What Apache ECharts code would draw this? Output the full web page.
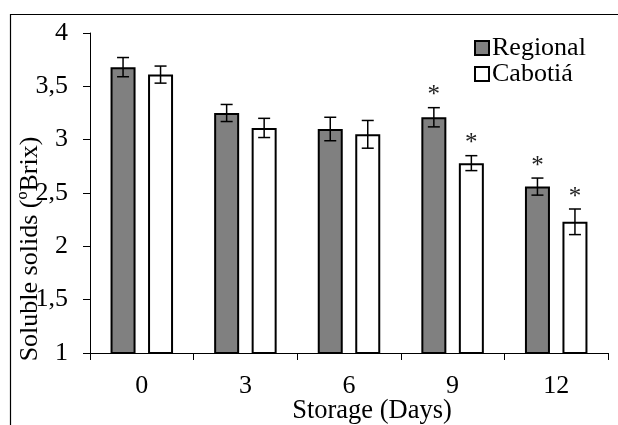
<!DOCTYPE html>
<html>
<head>
<meta charset="utf-8">
<script src="https://cdn.jsdelivr.net/npm/echarts@6/dist/echarts.min.js"></script>
<style>html,body{margin:0;padding:0;background:#fff;}#c{width:618px;height:425px;}</style>
</head>
<body>
<div id="c"></div>
<script>
var categories = ['0', '3', '6', '9', '12'];
var seriesNames = ['Regional', 'Cabotiá'];
var regional = [3.68, 3.25, 3.10, 3.21, 2.56];
var regionalErr = [0.09, 0.08, 0.11, 0.09, 0.08];
var regionalSig = [0, 0, 0, 1, 1];
var cabotia = [3.61, 3.11, 3.05, 2.78, 2.23];
var cabotiaErr = [0.08, 0.09, 0.13, 0.07, 0.12];
var cabotiaSig = [0, 0, 0, 1, 1];
var yTicks = [1, 1.5, 2, 2.5, 3, 3.5, 4];

var FONT = "'Liberation Serif', 'Times New Roman', serif";
var BAR_W = 25, BAR_GAP = 0.5;

function errData(vals, errs, sig) {
  return vals.map(function (v, i) { return [i, v, errs[i], sig[i]]; });
}

function errRender(sign) {
  return function (params, api) {
    var i = api.value(0), v = api.value(1), e = api.value(2), s = api.value(3);
    var off = sign * BAR_W * (1 + BAR_GAP) / 2;
    var top = api.coord([i, v + e]);
    var bot = api.coord([i, v - e]);
    var x = top[0] + off;
    var cap = 6;
    var st = { stroke: '#000', lineWidth: 1.5 };
    var children = [
      { type: 'line', shape: { x1: x, y1: top[1], x2: x, y2: bot[1] }, style: st },
      { type: 'line', shape: { x1: x - cap, y1: top[1], x2: x + cap, y2: top[1] }, style: st },
      { type: 'line', shape: { x1: x - cap, y1: bot[1], x2: x + cap, y2: bot[1] }, style: st }
    ];
    if (s) {
      children.push({ type: 'text', style: { text: '*', x: x, y: top[1] - 12, align: 'center', verticalAlign: 'middle', font: '25px ' + FONT, fill: '#222' } });
    }
    return { type: 'group', children: children };
  };
}

var chart = echarts.init(document.getElementById('c'));
chart.setOption({
  animation: false,
  backgroundColor: '#fff',
  grid: { left: 90, right: 10, top: 33, bottom: 72 },
  legend: {
    orient: 'vertical', left: 469, top: 30,
    itemWidth: 14, itemHeight: 14, itemGap: 0,
    icon: 'rect',
    textStyle: { fontFamily: FONT, fontSize: 26, color: '#000', padding: [0, 0, 0, -2] },
    data: seriesNames
  },
  xAxis: {
    type: 'category', data: categories,
    axisLine: { lineStyle: { color: '#000', width: 1 } },
    axisTick: { show: true, length: 7, lineStyle: { color: '#000' } },
    axisLabel: { fontFamily: FONT, fontSize: 26, color: '#000', margin: 20 }
  },
  yAxis: {
    type: 'value', min: yTicks[0], max: yTicks[yTicks.length - 1], interval: 0.5,
    splitLine: { show: false },
    axisLine: { show: true, lineStyle: { color: '#000', width: 1 } },
    axisTick: { show: true, length: 7, lineStyle: { color: '#000' } },
    axisLabel: { fontFamily: FONT, fontSize: 26, color: '#000', margin: 22,
      formatter: function (v) { return String(v).replace('.', ','); } }
  },
  graphic: [
    { type: 'rect', shape: { x: 10.5, y: 14.5, width: 1000, height: 1000 }, style: { fill: 'none', stroke: '#000', lineWidth: 1.2 }, z: -10, silent: true },
    { type: 'text', x: 30, y: 249, rotation: Math.PI / 2, style: { text: 'Soluble solids (ºBrix)', font: '26px ' + FONT, fill: '#000', align: 'center', verticalAlign: 'middle' } },
    { type: 'text', x: 372, y: 411, style: { text: 'Storage (Days)', font: '26.5px ' + FONT, fill: '#000', align: 'center', verticalAlign: 'middle' } }
  ],
  series: [
    { name: seriesNames[0], type: 'bar', data: regional, barWidth: BAR_W, barGap: (BAR_GAP * 100) + '%',
      itemStyle: { color: '#808080', borderColor: '#000', borderWidth: 2 } },
    { name: seriesNames[1], type: 'bar', data: cabotia, barWidth: BAR_W,
      itemStyle: { color: '#fff', borderColor: '#000', borderWidth: 2 } },
    { type: 'custom', renderItem: errRender(-1), data: errData(regional, regionalErr, regionalSig), z: 10 },
    { type: 'custom', renderItem: errRender(1), data: errData(cabotia, cabotiaErr, cabotiaSig), z: 10 }
  ]
});
</script>
</body>
</html>
